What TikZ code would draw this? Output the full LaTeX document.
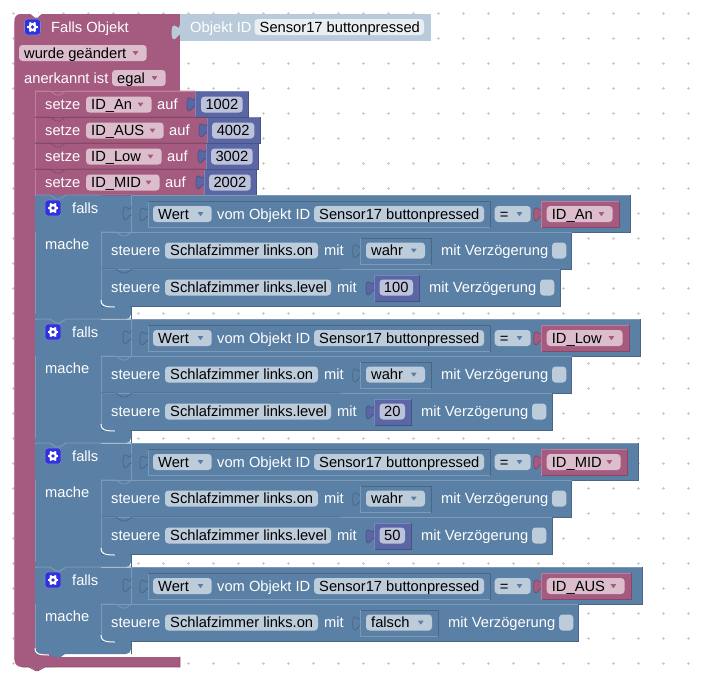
\documentclass[tikz,border=0pt]{standalone}
\usepackage{fontspec}
\setmainfont{Liberation Sans}
\definecolor{mag}{HTML}{A55B80}\definecolor{magD}{HTML}{844966}\definecolor{magL}{HTML}{C07C9D}
\definecolor{blu}{HTML}{5B80A5}\definecolor{bluD}{HTML}{496684}\definecolor{bluL}{HTML}{7C99B7}
\definecolor{num}{HTML}{5B67A5}\definecolor{numD}{HTML}{495284}\definecolor{numL}{HTML}{7C85C0}
\definecolor{objb}{HTML}{B9CBDB}\definecolor{objf}{HTML}{E9EEF3}
\definecolor{fB}{HTML}{BDCCDB}\definecolor{fM}{HTML}{DBBDCC}\definecolor{fN}{HTML}{BDC2DB}
\definecolor{icon}{HTML}{2F32DD}\definecolor{gridc}{HTML}{CCCCCC}
\newcount\lblno
\tikzset{
  x=1pt,y=-1pt,
  lab/.style={anchor=base west,inner sep=0pt,font=\fontsize{14.7}{16}\selectfont,text=white},
  ftxt/.style={anchor=base west,inner sep=0pt,font=\fontsize{14.7}{16}\selectfont,text=black},
  ctxt/.style={anchor=base,inner sep=0pt,font=\fontsize{14.7}{16}\selectfont,text=black},
  edge/.style={line width=0.8pt}
}
% x y text
\newcommand{\lab}[3]{\global\advance\lblno 1 \node[lab] (n\the\lblno) at ({#1},{#2+5}) {#3};}
\newcommand{\fld}[4]{\fill[#4,rounded corners=3.5pt] ({#1},{#2}) rectangle ({#3},{#2+16});}
% field with left text: x0 y0 x1 fill text
\newcommand{\tf}[5]{\fld{#1}{#2}{#3}{#4}\global\advance\lblno 1 \node[ftxt] (n\the\lblno) at ({#1+5},{#2+13}) {#5};}
% centred text field
\newcommand{\cf}[5]{\fld{#1}{#2}{#3}{#4}\global\advance\lblno 1 \node[ctxt] (n\the\lblno) at ({(#1+#3)/2},{#2+13}) {#5};}
% dropdown arrow: x1 y0 colour
\newcommand{\dd}[3]{\fill[#3,rounded corners=0.5pt] ({#1-14.2},{#2+6}) -- ({#1-8.2},{#2+6}) -- ({#1-11.2},{#2+10.3}) -- cycle;}
% drop field: x0 y0 x1 fill text arrowcolour
\newcommand{\df}[6]{\tf{#1}{#2}{#3}{#4}{#5}\dd{#3}{#2}{#6}}
% puzzle tab on left edge: x top fill edge
\newcommand{\ptab}[4]{\filldraw[fill=#3,draw=#4,line width=0.7pt] ({#1},{#2+5}) .. controls ({#1},{#2+15}) and ({#1-8},{#2-3}) .. ({#1-8},{#2+12.5}) .. controls ({#1-8},{#2+28}) and ({#1},{#2+10}) .. ({#1},{#2+15});}
% shaded box: x0 y0 x1 y1 fill dark light
\newcommand{\bx}[7]{\fill[#5] ({#1},{#2}) rectangle ({#3},{#4});
  \draw[#6,edge] ({#3},{#2}) -- ({#3},{#4}) -- ({#1},{#4});
  \draw[#7,edge] ({#1},{#4}) -- ({#1},{#2}) -- ({#3},{#2});}
% notch line: x0 x1 y colour
\newcommand{\nline}[4]{\draw[#4,edge] ({#1},{#3}) -- ({#1+15},{#3}) -- ({#1+21},{#3+4}) -- ({#1+25},{#3+4}) -- ({#1+31},{#3}) -- ({#2},{#3});}
% gear: x y
\newcommand{\gear}[2]{\filldraw[fill=icon,draw=numL,line width=0.6pt,rounded corners=3pt] ({#1},{#2}) rectangle ({#1+16},{#2+16});
  \foreach \gang in {0,60,120} {\draw[white,line width=2pt] ({#1+8+5.3*cos(\gang)},{#2+8+5.3*sin(\gang)}) -- ({#1+8-5.3*cos(\gang)},{#2+8-5.3*sin(\gang)});}
  \fill[white] ({#1+8},{#2+8}) circle (4.2);\fill[icon] ({#1+8},{#2+8}) circle (1.9);}
% setze: top right vright namefieldright name aufx valx0 valx1 val
\newcommand{\setze}[9]{\bx{35}{#1}{#2}{(#1+26)}{mag}{magD}{magL}
  \ptab{#2}{(#1+1)}{num}{numD}
  \bx{#2}{#1}{#3}{(#1+26)}{num}{numD}{numL}
  \lab{45}{(#1+13)}{setze}
  \df{86}{(#1+5.5)}{#4}{fM}{#5}{mag}
  \lab{#6}{(#1+13)}{auf}
  \cf{#7}{(#1+5.5)}{#8}{fN}{#9}}
% steuere (bool): y right boolx1 word text2x check
\newcommand{\stA}[6]{\bx{101}{#1}{#2}{(#1+37)}{blu}{bluD}{bluL}
  \lab{111}{(#1+18.5)}{steuere}
  \tf{165}{(#1+10.5)}{318}{fB}{Schlafzimmer links.on}
  \lab{324}{(#1+18.5)}{mit}
  \ptab{360.7}{(#1+7)}{blu}{bluD}
  \draw[bluL,edge] (360.7,{#1+6}) -- (360.7,{#1+32.5}) -- ({#3},{#1+32.5});
  \draw[bluD,edge] (360.7,{#1+6}) -- ({#3},{#1+6}) -- ({#3},{#1+32.5});
  \df{366}{(#1+10.5)}{(#3-6)}{fB}{#4}{blu}
  \lab{#5}{(#1+18.5)}{mit Verzögerung}
  \fld{#6}{(#1+10.5)}{(#6+14.3)}{fB}}
% steuere (level): y right numx1 val text2x check
\newcommand{\stB}[6]{\bx{101}{#1}{#2}{(#1+37)}{blu}{bluD}{bluL}
  \lab{111}{(#1+18.5)}{steuere}
  \tf{165}{(#1+10.5)}{331}{fB}{Schlafzimmer links.level}
  \lab{337}{(#1+18.5)}{mit}
  \ptab{374}{(#1+7)}{num}{numD}
  \bx{374}{(#1+6)}{#3}{(#1+32.5)}{num}{numD}{numL}
  \cf{379.5}{(#1+10.5)}{(#3-6)}{fN}{#4}
  \lab{#5}{(#1+18.5)}{mit Verzögerung}
  \fld{#6}{(#1+10.5)}{(#6+14.3)}{fB}}
% falls header: top idRight idName bottom
\newcommand{\fallsh}[4]{
  \fill[blu] (35,#1) rectangle (101,#4);
  \fill[blu,rounded corners=5pt] (35,{#4-20}) -- (35,#4) -- (131,#4) -- (131,{#4-20}) -- cycle;
  \draw[bluD,edge] (131,{#4-13}) -- (131,#4);
  \draw[bluL,edge] (35,#1) -- (35,{#4-5});
  \bx{131}{#1}{(#2+11)}{(#1+37)}{blu}{bluD}{bluL}
  \fill[blu] (35,{#1+1}) rectangle (131,{#1+37});
  \nline{35}{131}{#1}{bluL}
  \draw[bluL,edge] (131,#1) -- (131,{#1+37});
  \ptab{131}{(#1+6)}{blu}{bluD}
  \gear{45}{(#1+5)}
  \lab{72}{(#1+13)}{falls}
  \lab{45}{(#1+49)}{mache}
  \ptab{148}{(#1+7)}{blu}{bluD}
  \draw[bluL,edge] (148,{#1+6}) -- (148,{#1+32.5}) -- (490,{#1+32.5});
  \draw[bluD,edge] (148,{#1+6}) -- (490,{#1+6}) -- (490,{#1+32.5});
  \df{153}{(#1+11)}{211.7}{fB}{Wert}{blu}
  \lab{217}{(#1+19)}{vom Objekt ID}
  \tf{314}{(#1+11)}{484}{fB}{Sensor17 buttonpressed}
  \df{494.7}{(#1+11)}{530.7}{fB}{=}{blu}
  \ptab{541.7}{(#1+7)}{mag}{magD}
  \bx{541.7}{(#1+6)}{#2}{(#1+32.5)}{mag}{magD}{magL}
  \df{546.7}{(#1+11)}{(#2-6.4)}{fM}{#3}{mag}}
% rounded inner corner + tab at bottom of a statement: x y
\newcommand{\stbot}[2]{
  \fill[blu] (#1,{#2-5}) rectangle ({#1+30},{#2});
  \draw[white,line width=1pt] (#1,{#2-6}) .. controls (#1,{#2-1}) and ({#1+2},{#2+1}) .. ({#1+14},{#2+1});
  \fill[blu] ({#1+14},#2) -- ({#1+21},{#2+3.5}) -- ({#1+25},{#2+3.5}) -- ({#1+30},#2) -- cycle;}
\begin{document}
\begin{tikzpicture}
\useasboundingbox (0,0) rectangle (708,686);
\fill[white] (0,0) rectangle (708,686);
% grid
\foreach \gx in {13,38,...,688} \foreach \gy in {13,38,...,663} {
  \draw[gridc,line width=0.7pt] ({\gx-1.5},\gy) -- ({\gx+1.5},\gy) ({\gx},{\gy-1.5}) -- ({\gx},{\gy+1.5});}
% outer block
\fill[mag,rounded corners=6pt] (14.5,14) -- (180,14) -- (180,40) -- (14.5,40) -- cycle;
\fill[mag] (60,14) rectangle (180,91);
\fill[mag] (35,30) rectangle (180,91);
\fill[mag,rounded corners=7pt] (14.5,14) -- (60,14) -- (60,667) -- (14.5,667) -- cycle;
\fill[mag] (35,656.5) rectangle (180,667);
\fill[mag] (29,666) -- (36,670.5) -- (38,670.5) -- (45,666) -- cycle;
\draw[magD,edge] (22,667) -- (29,667) -- (36,670.7) -- (38,670.7) -- (45,667) -- (180,667) -- (180,656.5);
\fill[white] (29.5,13) -- (35,17.5) -- (37.5,17.5) -- (42.5,13) -- cycle;
\draw[magL,edge] (14.5,22) -- (14.5,660);
% object id
\bx{180}{14}{430}{40}{objb}{objb}{objb}
\ptab{180}{20}{objb}{objb}
\lab{190}{27}{Objekt ID}
\tf{254.5}{19}{424}{objf}{Sensor17 buttonpressed}
% header
\gear{24.5}{19}
\lab{51}{27}{Falls Objekt}
\df{19}{45}{146.7}{fM}{wurde geändert}{mag}
\lab{24}{78}{anerkannt ist}
\df{112}{70}{165.7}{fM}{egal}{mag}
% setze
\setze{169}{204}{256.7}{159.7}{ID\_MID}{165}{209}{250.7}{2002}
\setze{143}{206}{258.7}{161.7}{ID\_Low}{167}{211}{252.7}{3002}
\setze{117}{207}{260.3}{163.7}{ID\_AUS}{169}{212}{254.3}{4002}
\setze{91}{195}{248.7}{151.7}{ID\_An}{157}{201}{242.7}{1002}
\nline{35}{195}{91}{magL}
\nline{35}{207}{117}{magD}
\nline{35}{206}{143}{magD}
\nline{35}{204}{169}{magD}
% falls blocks, bottom to top
\fallsh{567}{631}{ID\_AUS}{654}
\stA{604}{578}{438}{falsch}{448}{559}
\stbot{101}{641}
\stbot{35}{654}
\nline{101}{131}{604}{bluL}
\fallsh{443}{627}{ID\_MID}{567}
\stA{480}{571.5}{431}{wahr}{441}{552}
\stB{517}{552}{411}{50}{421}{532}
\nline{101}{131}{480}{bluL}\nline{101}{340}{517}{bluD}
\stbot{101}{554}
\nline{35}{131}{567}{bluL}
\fallsh{319}{629}{ID\_Low}{443}
\stA{356}{571.5}{431}{wahr}{441}{552}
\stB{393}{552}{411}{20}{421}{532}
\nline{101}{131}{356}{bluL}\nline{101}{340}{393}{bluD}
\stbot{101}{430}
\nline{35}{131}{443}{bluL}
\fallsh{195}{619}{ID\_An}{319}
\stA{232}{571.5}{431}{wahr}{441}{552}
\stB{269}{560}{419}{100}{429}{540}
\nline{101}{131}{232}{bluL}\nline{101}{340}{269}{bluD}
\stbot{101}{306}
\nline{35}{131}{319}{bluL}
\end{tikzpicture}
\end{document}
